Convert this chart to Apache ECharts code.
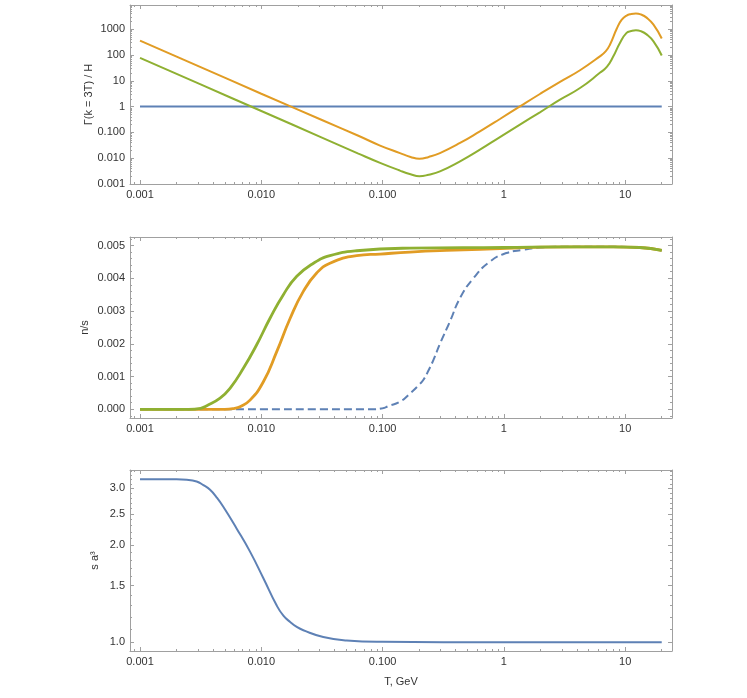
<!DOCTYPE html>
<html><head><meta charset="utf-8">
<script src="https://cdn.jsdelivr.net/npm/echarts@6/dist/echarts.min.js"></script>
<style>html,body{margin:0;padding:0;background:#fff}#c{width:747px;height:698px}</style>
</head><body><div id="c"></div>
<script>
// ---------- Data ----------
// Panel 1: Gamma(k=3T)/H
const p1BlueT = [0.001, 20];
const p1BlueV = [1, 1];
const p1OrangeT = [0.001,0.00316,0.01,0.0316,0.0631,0.0953,0.139,0.17,0.201,0.24,0.297,0.435,0.634,0.927,1.355,1.98,2.90,4.24,6.18,6.92,7.48,8.51,9.33,10.26,11.2,12.25,13.5,15.0,17.1,20];
const p1OrangeV = [363,33.9,3.16,0.302,0.074,0.0309,0.0158,0.0112,0.0095,0.0112,0.0158,0.0389,0.11,0.331,1.02,3.09,9.12,25.7,89,141,251,1047,2291,3388,3890,4074,3715,2818,1514,437];
const p1GreenT = [0.001,0.00316,0.01,0.0316,0.0631,0.0953,0.139,0.17,0.201,0.24,0.297,0.435,0.634,0.927,1.355,1.98,2.90,4.24,6.18,7.08,7.94,9.04,10.26,11.2,12.25,13.5,15.0,17.1,20];
const p1GreenV = [77.6,7.24,0.676,0.063,0.0151,0.0066,0.00331,0.0024,0.0020,0.00229,0.00309,0.00759,0.0214,0.0661,0.2,0.603,1.86,5.25,20.4,35.5,85,295,724,851,912,832,631,339,95.5];

// Panel 2: n/s
const p2BlueT = [0.001,0.0794,0.1,0.112,0.139,0.168,0.2,0.217,0.24,0.262,0.297,0.359,0.435,0.56,0.767,1.05,1.45,1.98,3.16,7.94,13.2,20];
const p2BlueV = [0,0,0.00003,0.0001,0.00023,0.00048,0.00075,0.0009,0.0012,0.0015,0.002,0.00268,0.0034,0.004,0.00451,0.00477,0.00487,0.00494,0.00496,0.00496,0.00494,0.00485];
const p2OrangeT = [0.001,0.005,0.00603,0.00667,0.00807,0.0104,0.0134,0.0173,0.0222,0.0286,0.0368,0.0611,0.0953,0.168,0.337,1.2,2,7.94,13.2,20];
const p2OrangeV = [0,0,0.00003,0.00008,0.00028,0.00084,0.00176,0.00278,0.0036,0.00416,0.00446,0.00469,0.00474,0.0048,0.00485,0.00492,0.00495,0.00496,0.00494,0.00485];
const p2GreenT = [0.001,0.00251,0.00316,0.00355,0.00457,0.00552,0.00711,0.00916,0.0118,0.0152,0.0196,0.0269,0.0368,0.0611,0.168,1,3.16,7.94,13.2,20];
const p2GreenV = [0,0,0.00003,0.00011,0.00034,0.00064,0.00125,0.00197,0.00278,0.0035,0.00406,0.00446,0.00469,0.00484,0.00492,0.00494,0.00496,0.00496,0.00494,0.00485];

// Panel 3: s a^3
const p3BlueT = [0.001,0.002,0.00243,0.00293,0.00333,0.00378,0.00429,0.00486,0.00627,0.00807,0.0104,0.0134,0.0152,0.0173,0.0196,0.0222,0.0324,0.0506,0.1,1,20];
const p3BlueV = [3.2,3.2,3.19,3.15,3.07,2.97,2.81,2.63,2.25,1.91,1.58,1.30,1.21,1.156,1.116,1.09,1.039,1.014,1.004,1.0,1.0];

// Tick labels
const xMajor = [0.001, 0.01, 0.1, 1, 10];
const xMajorLabels = ['0.001', '0.010', '0.100', '1', '10'];
const y1Major = [0.001, 0.01, 0.1, 1, 10, 100, 1000];
const y1MajorLabels = ['0.001', '0.010', '0.100', '1', '10', '100', '1000'];
const y2Major = [0, 0.001, 0.002, 0.003, 0.004, 0.005];
const y2MajorLabels = ['0.000', '0.001', '0.002', '0.003', '0.004', '0.005'];
const y3Major = [1.0, 1.5, 2.0, 2.5, 3.0];
const y3MajorLabels = ['1.0', '1.5', '2.0', '2.5', '3.0'];

// ---------- Chart ----------
const FRAME = '#a0a0a0', LABEL = '#333', FONT = 'Liberation Sans';
const BLUE = '#5E81B5', ORANGE = '#E19C24', GREEN = '#8FB032';

function logMinors(kFrom, kTo) {
  const out = [];
  for (let k = kFrom; k <= kTo; k++) for (let m = 2; m <= 9; m++) out.push(+(m * Math.pow(10, k)).toPrecision(3));
  return out;
}
function linMinors(from, to, step, n) {
  const out = [];
  for (let i = 0; i <= n; i++) out.push(+(from + i * step).toFixed(6));
  return out;
}
function lookup(vals, labels) {
  return function (v) {
    for (let i = 0; i < vals.length; i++) if (Math.abs(v - vals[i]) <= Math.abs(vals[i]) * 1e-6 + 1e-12) return labels[i];
    return '';
  };
}
const xMinor = logMinors(-4, 1);
const y1Minor = logMinors(-3, 3);
const y2Minor = linMinors(-0.0002, 0.0052, 0.0002, 27).filter(v => !y2Major.some(m => Math.abs(m - v) < 1e-9));
const y3Minor = [1.1,1.2,1.3,1.4,1.6,1.7,1.8,1.9,2.1,2.2,2.3,2.4,2.6,2.7,2.8,2.9,3.1,3.2,3.3,3.4];

const labelStyle = { color: LABEL, fontFamily: FONT, fontSize: 11 };
const nameStyle = { color: LABEL, fontFamily: FONT, fontSize: 11 };

function axisSet(kind, grid, type, min, max, majors, minors, fmtVals, fmtLabels, name, nameGap) {
  const isX = kind === 'x';
  const pos = isX ? ['bottom', 'top'] : ['left', 'right'];
  const base = {
    type: type, gridIndex: grid, min: min, max: max, scale: true,
    splitLine: { show: false }, axisPointer: { show: false },
    axisLine: { show: true, onZero: false, lineStyle: { color: FRAME, width: 1 } }
  };
  const tick = (vals, len) => ({ show: true, inside: true, length: len, customValues: vals, lineStyle: { color: FRAME, width: 1 } });
  const main = Object.assign({}, base, {
    position: pos[0],
    axisTick: tick(majors, 4),
    axisLabel: Object.assign({ show: true, customValues: majors, formatter: lookup(fmtVals, fmtLabels), margin: 5 }, labelStyle)
  });
  if (name) {
    main.name = name; main.nameLocation = 'middle'; main.nameGap = nameGap; main.nameTextStyle = nameStyle;
    main.nameMoveOverlap = false;
  }
  return [
    main,
    Object.assign({}, base, { position: pos[0], axisLine: { show: false, onZero: false }, axisTick: tick(minors, 2), axisLabel: { show: false } }),
    Object.assign({}, base, { position: pos[1], axisTick: tick(majors, 4), axisLabel: { show: false } }),
    Object.assign({}, base, { position: pos[1], axisLine: { show: false, onZero: false }, axisTick: tick(minors, 2), axisLabel: { show: false } })
  ];
}

const xMin = 0.000827, xMax = 24.3;
const grids = [
  { left: 130, right: 75, top: 5, height: 179 },
  { left: 130, right: 75, top: 237, height: 181 },
  { left: 130, right: 75, top: 470, height: 181 }
];
const xAxes = [].concat(
  axisSet('x', 0, 'log', xMin, xMax, xMajor, xMinor, xMajor, xMajorLabels),
  axisSet('x', 1, 'log', xMin, xMax, xMajor, xMinor, xMajor, xMajorLabels),
  axisSet('x', 2, 'log', xMin, xMax, xMajor, xMinor, xMajor, xMajorLabels, 'T, GeV', 25)
);
const yAxes = [].concat(
  axisSet('y', 0, 'log', 0.001, 8700, y1Major, y1Minor, y1Major, y1MajorLabels, 'Γ(k = 3T) / H', 36),
  axisSet('y', 1, 'value', -0.000266, 0.00526, y2Major, y2Minor, y2Major, y2MajorLabels, 'n/s', 40),
  axisSet('y', 2, 'log', 0.94, 3.42, y3Major, y3Minor, y3Major, y3MajorLabels, 's a³', 30)
);

function zip(a, b) { return a.map((v, i) => [v, b[i]]); }
function line(idx, T, V, color, width, dashed) {
  return {
    type: 'line', xAxisIndex: idx * 4, yAxisIndex: idx * 4, data: zip(T, V),
    showSymbol: false, symbol: 'none', smooth: 0.5, silent: true,
    lineStyle: { color: color, width: width, type: dashed ? [8, 4] : 'solid', cap: 'butt' }
  };
}

const chart = echarts.init(document.getElementById('c'), null, { renderer: 'canvas' });
chart.setOption({
  animation: false,
  backgroundColor: '#fff',
  grid: grids,
  xAxis: xAxes,
  yAxis: yAxes,
  series: [
    line(0, p1BlueT, p1BlueV, BLUE, 2),
    line(0, p1OrangeT, p1OrangeV, ORANGE, 2),
    line(0, p1GreenT, p1GreenV, GREEN, 2),
    line(1, p2BlueT, p2BlueV, BLUE, 2, true),
    line(1, p2OrangeT, p2OrangeV, ORANGE, 2.8),
    line(1, p2GreenT, p2GreenV, GREEN, 2.8),
    line(2, p3BlueT, p3BlueV, BLUE, 2)
  ]
});
</script></body></html>
